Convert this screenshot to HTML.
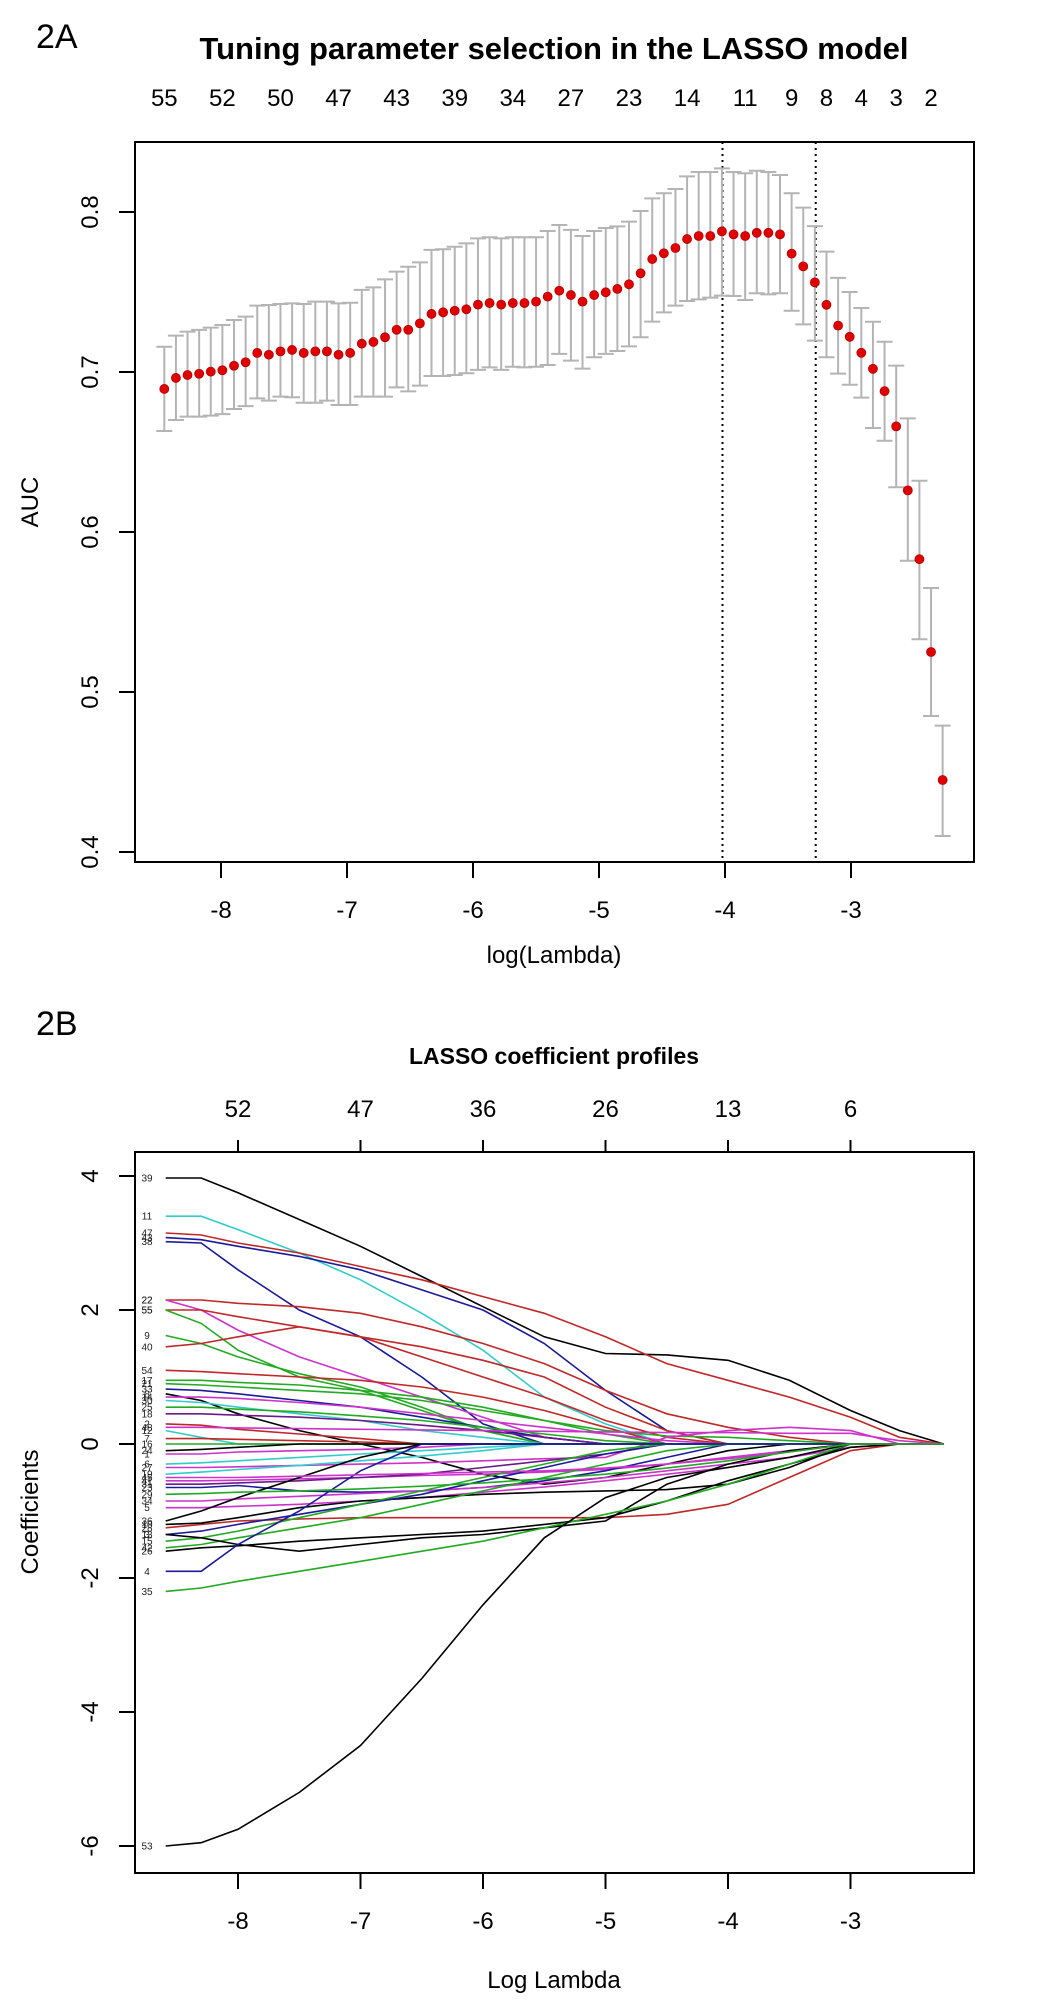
<!DOCTYPE html>
<html>
<head>
<meta charset="utf-8">
<style>
  html,body{margin:0;padding:0;background:#fff;}
  svg{display:block;font-family:"Liberation Sans",Arial,sans-serif;}
</style>
</head>
<body>
<svg id="fig" width="1050" height="2008" viewBox="0 0 1050 2008" xmlns="http://www.w3.org/2000/svg">
  <rect x="0" y="0" width="1050" height="2008" fill="#fff"/>
  <!-- Panel A static -->
  <text x="36" y="48" font-size="34" fill="#000">2A</text>
  <text x="554" y="59" font-size="31" font-weight="bold" text-anchor="middle" fill="#000">Tuning parameter selection in the LASSO model</text>
  <g id="chartA"></g>
  <rect x="135" y="142" width="839" height="720" fill="none" stroke="#000" stroke-width="2"/>
  <text x="0" y="0" font-size="24" text-anchor="middle" transform="translate(38,502) rotate(-90)">AUC</text>
  <text x="554" y="963" font-size="24" text-anchor="middle">log(Lambda)</text>

  <!-- Panel B static -->
  <text x="36" y="1035" font-size="34" fill="#000">2B</text>
  <text x="554" y="1064" font-size="23" font-weight="bold" text-anchor="middle" fill="#000">LASSO coefficient profiles</text>
  <g id="chartB"></g>
  <rect x="135" y="1152" width="839" height="721" fill="none" stroke="#000" stroke-width="2"/>
  <text x="0" y="0" font-size="24" text-anchor="middle" transform="translate(38,1512) rotate(-90)">Coefficients</text>
  <text x="554" y="1988" font-size="24" text-anchor="middle">Log Lambda</text>
</svg>
<script>
// ---------- Chart A data ----------
const aucLambdaStart = -8.45;
const aucLambdaStep = 0.0922;
const aucMean = [0.6894,0.6963,0.6981,0.6989,0.7002,0.7011,0.7039,0.7061,0.7119,0.7108,0.7129,0.7138,0.7119,0.7129,0.7129,0.7108,0.7119,0.7177,0.7188,0.7217,0.7264,0.7264,0.7304,0.7363,0.7373,0.7383,0.7392,0.7421,0.7431,0.7421,0.7431,0.7431,0.7440,0.7471,0.7508,0.7481,0.7440,0.7481,0.7498,0.7519,0.7548,0.7617,0.7706,0.7742,0.7775,0.7831,0.7850,0.7850,0.7879,0.786,0.785,0.787,0.787,0.786,0.774,0.766,0.756,0.742,0.729,0.722,0.712,0.702,0.688,0.666,0.626,0.583,0.525,0.445];
const aucUpper = [0.7158,0.7227,0.7252,0.7263,0.7277,0.7294,0.7325,0.7346,0.7415,0.7419,0.7425,0.7429,0.7425,0.7440,0.7440,0.7429,0.7433,0.7513,0.7529,0.7579,0.7627,0.7658,0.7685,0.7763,0.7767,0.7783,0.7804,0.7835,0.7842,0.7835,0.7842,0.7842,0.7842,0.7881,0.7919,0.7888,0.7850,0.7881,0.7900,0.7910,0.7940,0.8006,0.8085,0.8117,0.8144,0.8223,0.8250,0.8250,0.8273,0.8250,0.8242,0.8258,0.8250,0.8231,0.8117,0.8027,0.7912,0.7752,0.7588,0.750,0.740,0.7314,0.7189,0.704,0.671,0.632,0.565,0.479];
const aucLower = [0.6631,0.6700,0.6721,0.6721,0.6727,0.6737,0.6769,0.6787,0.6835,0.6821,0.6846,0.6842,0.6808,0.6808,0.6821,0.6794,0.6794,0.6846,0.6846,0.6846,0.6904,0.6879,0.6915,0.6975,0.6975,0.6981,0.6992,0.7013,0.7029,0.7013,0.7033,0.7029,0.7033,0.7044,0.7113,0.7071,0.7021,0.7092,0.7113,0.7131,0.7160,0.7217,0.7315,0.7373,0.7415,0.7444,0.7454,0.7465,0.7477,0.7475,0.7450,0.7492,0.7485,0.7492,0.7383,0.7298,0.7196,0.7092,0.699,0.692,0.684,0.665,0.657,0.628,0.582,0.533,0.485,0.410];
const topCountIndex = [0,5,10,15,20,25,30,35,40,45,50,54,57,60,63,66];
const topCountLabels = ["55","52","50","47","43","39","34","27","23","14","11","9","8","4","3","2"];
const aucXTicks = [-8,-7,-6,-5,-4,-3];
const aucYTicks = [0.4,0.5,0.6,0.7,0.8];
const aucYTickLabels = ["0.4","0.5","0.6","0.7","0.8"];
const vLines = [-4.02,-3.28];

// ---------- Chart B data ----------
const coefLambda = [-8.59,-8.3,-8,-7.5,-7,-6.5,-6,-5.5,-5,-4.5,-4,-3.5,-3,-2.6,-2.24];
const coefXTicks = [-8,-7,-6,-5,-4,-3];
const coefTopLabels = ["52","47","36","26","13","6"];
const coefYTicks = [-6,-4,-2,0,2,4];
const coefLabels = ["39","11","47","43","38","22","22","55","55","9","40","54","17","21","33","8","14","30","25","18","2","12","7","16","24","1","6","27","19","41","31","23","34","5","36","28","10","3","15","42","26","13","4","35","53","48","45","29"];
const coefColors = ["#000000","#33cccc","#c02828","#1a1a9a","#1a1a9a","#c02828","#cc33cc","#c02828","#22aa22","#22aa22","#c02828","#c02828","#22aa22","#22aa22","#1a1a9a","#000000","#cc33cc","#33cccc","#22aa22","#6a1a8a","#c02828","#33cccc","#c02828","#22aa22","#000000","#cc33cc","#33cccc","#cc33cc","#33cccc","#cc33cc","#6a1a8a","#1a1a9a","#cc33cc","#cc33cc","#000000","#c02828","#000000","#1a1a9a","#22aa22","#22aa22","#000000","#000000","#1a1a9a","#22aa22","#000000","#cc33cc","#cc33cc","#22aa22"];
const coefValues = [
 [3.97,3.97,3.75,3.35,2.95,2.5,2.05,1.6,1.35,1.33,1.25,0.95,0.5,0.2,0],
 [3.4,3.4,3.2,2.85,2.45,1.95,1.4,0.7,0.3,0,0,0,0,0,0],
 [3.15,3.12,3.0,2.85,2.65,2.45,2.2,1.95,1.6,1.2,0.95,0.7,0.4,0.1,0],
 [3.08,3.05,2.95,2.8,2.6,2.3,2.0,1.5,0.8,0.2,0,0,0,0,0],
 [3.02,3.0,2.6,2.0,1.6,1.0,0.3,0,0,0,0,0,0,0,0],
 [2.15,2.15,2.1,2.05,1.95,1.75,1.5,1.2,0.8,0.45,0.25,0.1,0,0,0],
 [2.15,2.0,1.7,1.3,1.0,0.7,0.4,0.1,0,0,0,0,0,0,0],
 [2.0,2.0,1.9,1.75,1.6,1.45,1.25,1.0,0.55,0.2,0,0,0,0,0],
 [2.0,1.8,1.4,1.0,0.8,0.5,0.2,0,0,0,0,0,0,0,0],
 [1.62,1.5,1.3,1.05,0.85,0.55,0.2,0,0,0,0,0,0,0,0],
 [1.45,1.5,1.6,1.75,1.6,1.3,1.0,0.7,0.35,0.1,0,0,0,0,0],
 [1.1,1.08,1.05,1.0,0.95,0.85,0.7,0.5,0.25,0,0,0,0,0,0],
 [0.95,0.95,0.92,0.88,0.8,0.7,0.55,0.35,0.15,0,0,0,0,0,0],
 [0.9,0.88,0.85,0.8,0.75,0.65,0.5,0.35,0.2,0.12,0.1,0.05,0,0,0],
 [0.82,0.8,0.75,0.65,0.55,0.4,0.25,0.1,0,0,0,0,0,0,0],
 [0.75,0.65,0.45,0.2,0,-0.2,-0.45,-0.6,-0.5,-0.3,-0.1,0,0,0,0],
 [0.7,0.7,0.68,0.62,0.55,0.45,0.35,0.25,0.15,0.05,0,0,0,0,0],
 [0.65,0.62,0.55,0.45,0.35,0.2,0.1,0,0,0,0,0,0,0,0],
 [0.55,0.55,0.52,0.48,0.42,0.35,0.25,0.15,0.05,0,0,0,0,0,0],
 [0.45,0.45,0.43,0.4,0.35,0.28,0.2,0.1,0,0,0,0,0,0,0],
 [0.3,0.28,0.22,0.15,0.08,0,0,0,0,0,0,0,0,0,0],
 [0.2,0.1,0,0,0,0,0,0,0,0,0,0,0,0,0],
 [0.08,0.08,0.07,0.05,0.03,0,0,0,0,0,0,0,0,0,0],
 [0.0,0.0,0.0,0.0,0.0,0.0,0.0,0.0,0.0,0.0,0.0,0.0,0.0,0.0,0.0],
 [-0.1,-0.08,-0.05,0,0,0,0,0,0,0,0,0,0,0,0],
 [-0.15,-0.15,-0.12,-0.1,-0.08,-0.05,0,0,0,0,0,0,0,0,0],
 [-0.3,-0.28,-0.25,-0.2,-0.15,-0.1,-0.05,0,0,0,0,0,0,0,0],
 [-0.35,-0.35,-0.34,-0.32,-0.3,-0.28,-0.25,-0.22,-0.2,0.1,0.2,0.25,0.2,0,0],
 [-0.45,-0.42,-0.38,-0.32,-0.25,-0.18,-0.1,0,0,0,0,0,0,0,0],
 [-0.55,-0.55,-0.54,-0.52,-0.5,-0.47,-0.45,-0.42,-0.38,-0.3,-0.2,-0.1,0,0,0],
 [-0.6,-0.6,-0.58,-0.55,-0.5,-0.45,-0.35,-0.25,-0.15,0,0,0,0,0,0],
 [-0.65,-0.65,-0.62,-0.7,-0.72,-0.7,-0.65,-0.55,-0.4,-0.2,0,0,0,0,0],
 [-0.85,-0.85,-0.82,-0.78,-0.74,-0.7,-0.65,-0.58,-0.5,-0.4,-0.3,-0.2,-0.05,0,0],
 [-0.95,-0.95,-0.93,-0.9,-0.85,-0.8,-0.72,-0.64,-0.55,-0.45,-0.35,-0.2,0,0,0],
 [-1.15,-1.0,-0.8,-0.5,-0.2,0,0,0,0,0,0,0,0,0,0],
 [-1.25,-1.2,-1.15,-1.12,-1.1,-1.1,-1.1,-1.1,-1.1,-1.05,-0.9,-0.5,-0.1,0,0],
 [-1.2,-1.18,-1.1,-0.95,-0.85,-0.8,-0.75,-0.72,-0.7,-0.68,-0.6,-0.35,0,0,0],
 [-1.35,-1.3,-1.2,-1.05,-0.9,-0.75,-0.55,-0.35,-0.15,0,0,0,0,0,0],
 [-1.45,-1.4,-1.3,-1.1,-0.9,-0.7,-0.5,-0.3,-0.1,0,0,0,0,0,0],
 [-1.55,-1.5,-1.4,-1.25,-1.1,-0.9,-0.7,-0.5,-0.3,-0.1,0,0,0,0,0],
 [-1.6,-1.55,-1.52,-1.45,-1.4,-1.35,-1.3,-1.2,-1.1,-0.85,-0.55,-0.3,-0.05,0,0],
 [-1.35,-1.4,-1.5,-1.6,-1.5,-1.4,-1.35,-1.25,-1.15,-0.6,-0.3,-0.1,0,0,0],
 [-1.9,-1.9,-1.5,-1.0,-0.4,0,0,0,0,0,0,0,0,0,0],
 [-2.2,-2.15,-2.05,-1.9,-1.75,-1.6,-1.45,-1.25,-1.05,-0.85,-0.6,-0.3,0,0,0],
 [-6.0,-5.95,-5.75,-5.2,-4.5,-3.5,-2.4,-1.4,-0.8,-0.5,-0.35,-0.2,0,0,0],
 [0.25,0.25,0.24,0.23,0.22,0.21,0.2,0.19,0.18,0.17,0.17,0.16,0.16,0.05,0],
 [-0.5,-0.5,-0.5,-0.48,-0.46,-0.44,-0.42,-0.4,-0.36,-0.3,-0.22,-0.12,0,0,0],
 [-0.75,-0.74,-0.72,-0.7,-0.67,-0.63,-0.58,-0.52,-0.45,-0.36,-0.25,-0.12,0,0,0]
];

const NS = "http://www.w3.org/2000/svg";
function mk(parent, tag, attrs, text) {
  const el = document.createElementNS(NS, tag);
  for (const k in attrs) el.setAttribute(k, attrs[k]);
  if (text !== undefined) el.textContent = text;
  parent.appendChild(el);
  return el;
}

// ---- Chart A axes ----
const xA = v => 725 + (v + 4) * 126;
const yA = a => 212 + (0.8 - a) * 1600;
const gA = document.getElementById('chartA');

aucXTicks.forEach(t => {
  const l = mk(gA, 'line', {x1: xA(t), x2: xA(t), y1: 862, y2: 878, stroke: '#000', 'stroke-width': 2});
  
  
  const tx = mk(gA, 'text', {x: xA(t), y: 918, 'font-size': 24, 'text-anchor': 'middle'}, String(t));
  
  
});
aucYTicks.forEach((t, i) => {
  const l = mk(gA, 'line', {x1: 119, x2: 135, y1: yA(t), y2: yA(t), stroke: '#000', 'stroke-width': 2});
  
  
  const tx = mk(gA, 'text', {x: 0, y: 0, 'font-size': 24, 'text-anchor': 'middle', transform: 'translate(98,' + yA(t) + ') rotate(-90)'}, aucYTickLabels[i]);
  
  
});
topCountIndex.forEach((idx, i) => {
  const tx = mk(gA, 'text', {x: xA(aucLambdaStart + idx * aucLambdaStep), y: 106, 'font-size': 24, 'text-anchor': 'middle'}, topCountLabels[i]);
  
  
});
vLines.forEach(v => {
  const l = mk(gA, 'line', {x1: xA(v), x2: xA(v), y1: 142, y2: 862, stroke: '#000', 'stroke-width': 2, 'stroke-dasharray': '2,4'});
  
  
});
aucMean.forEach((m, i) => {
  const x = xA(aucLambdaStart + i * aucLambdaStep);
  const g = mk(gA, 'g', {});
  
  
  mk(g, 'line', {x1: x, x2: x, y1: yA(aucUpper[i]), y2: yA(aucLower[i]), stroke: '#b4b4b4', 'stroke-width': 2});
  mk(g, 'line', {x1: x - 8, x2: x + 8, y1: yA(aucUpper[i]), y2: yA(aucUpper[i]), stroke: '#b4b4b4', 'stroke-width': 2});
  mk(g, 'line', {x1: x - 8, x2: x + 8, y1: yA(aucLower[i]), y2: yA(aucLower[i]), stroke: '#b4b4b4', 'stroke-width': 2});
});
aucMean.forEach((m, i) => {
  const c = mk(gA, 'circle', {cx: xA(aucLambdaStart + i * aucLambdaStep), cy: yA(m), r: 4.5, fill: '#e00000', stroke: '#b00000', 'stroke-width': 0.8});
  
  
});

// ---- Chart B ----
const xB = v => 238 + (v + 8) * 122.5;
const yB = c => 1444 - 67 * c;
const gB = document.getElementById('chartB');

coefXTicks.forEach((t, i) => {
  const l = mk(gB, 'line', {x1: xB(t), x2: xB(t), y1: 1873, y2: 1889, stroke: '#000', 'stroke-width': 2});
  
  
  const tx = mk(gB, 'text', {x: xB(t), y: 1929, 'font-size': 24, 'text-anchor': 'middle'}, String(t));
  
  
  const tt = mk(gB, 'line', {x1: xB(t), x2: xB(t), y1: 1152, y2: 1140, stroke: '#000', 'stroke-width': 2});
  
  
  const tl = mk(gB, 'text', {x: xB(t), y: 1117, 'font-size': 24, 'text-anchor': 'middle'}, coefTopLabels[i]);
  
  
});
coefYTicks.forEach(t => {
  const l = mk(gB, 'line', {x1: 119, x2: 135, y1: yB(t), y2: yB(t), stroke: '#000', 'stroke-width': 2});
  
  
  const tx = mk(gB, 'text', {x: 0, y: 0, 'font-size': 24, 'text-anchor': 'middle', transform: 'translate(98,' + yB(t) + ') rotate(-90)'}, String(t));
  
  
});
coefValues.forEach((vals, k) => {
  const pts = vals.map((v, j) => xB(coefLambda[j]).toFixed(1) + ',' + yB(v).toFixed(1)).join(' ');
  const p = mk(gB, 'polyline', {points: pts, fill: 'none', stroke: coefColors[k], 'stroke-width': 1.6});
  
  
  const lbl = mk(gB, 'text', {x: 147, y: yB(vals[0]) + 3.5, 'font-size': 10, 'text-anchor': 'middle', fill: '#222'}, coefLabels[k]);
  
  
});
</script>
</body>
</html>
